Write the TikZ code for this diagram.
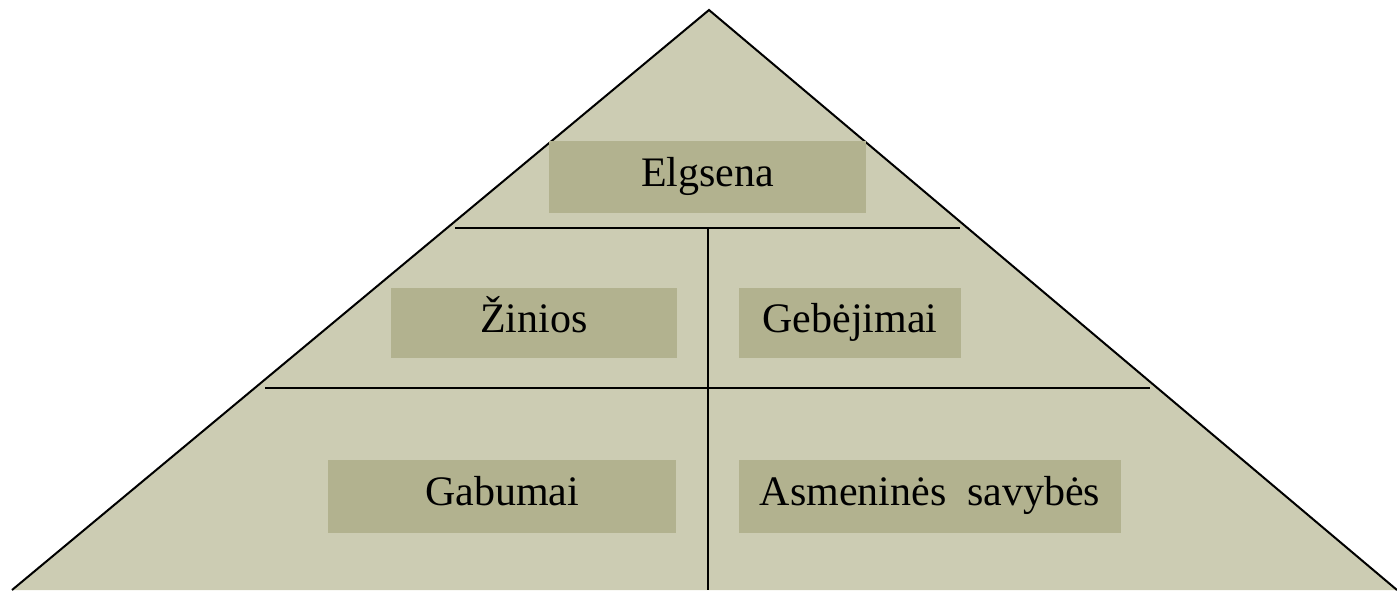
\documentclass[tikz,border=0pt]{standalone}
\usepackage{fontspec}
\setmainfont{Liberation Serif}
\definecolor{pyramidfill}{RGB}{204,204,179}
\definecolor{labelfill}{RGB}{178,178,143}
\tikzset{
	lvl/.style={fill=labelfill, inner sep=0pt, text height=1.1em, text depth=0.18em, font=\fontsize{21}{25}\selectfont},
	sep/.style={line width=1pt}
}

\begin{document}
\begin{tikzpicture}[x=0.5pt,y=-0.5pt]
	\useasboundingbox (0,0) rectangle (1397,590);
	\fill [pyramidfill] (12,590) -- (709,10) -- (1397,590) -- cycle;
	\draw [sep] (12,590) -- (709,10) -- (1397,590);
	\draw [sep] (455,228) -- (960,228);
	\draw [sep] (265,388) -- (1150,388);
	\draw [sep] (708,228) -- (708,590);
	\node [lvl, minimum width=158.5pt, minimum height=36pt] (elgsena) at (707.5,177) {Elgsena};
	\node [lvl, minimum width=143pt, minimum height=35pt] (zinios) at (534,323) {Žinios};
	\node [lvl, minimum width=111pt, minimum height=35pt] (gebejimai) at (850,323) {Gebėjimai};
	\node [lvl, minimum width=174pt, minimum height=36.5pt] (gabumai) at (502,496.5) {Gabumai};
	\node [lvl, minimum width=191pt, minimum height=36.5pt] (savybes) at (930,496.5) {Asmeninės\ \ savybės};
\end{tikzpicture}
\end{document}
